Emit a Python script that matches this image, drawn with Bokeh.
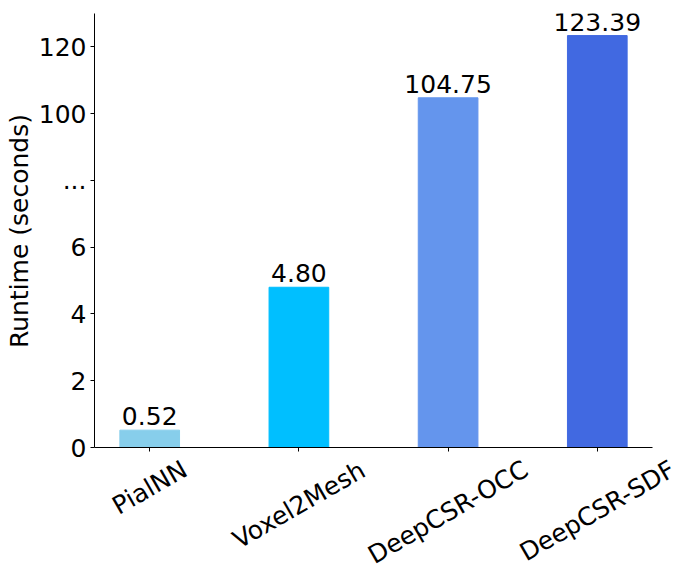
from bokeh.plotting import figure
from bokeh.models import ColumnDataSource, FixedTicker, Range1d, Label, Title
from bokeh.core.properties import value
from bokeh.embed import file_html
from bokeh.resources import INLINE
import math

methods = ["PialNN", "Voxel2Mesh", "DeepCSR-OCC", "DeepCSR-SDF"]
runtimes = [0.52, 4.80, 104.75, 123.39]
colors = ["skyblue", "deepskyblue", "cornflowerblue", "royalblue"]
ytick_pos = [0, 2, 4, 6, 8, 10, 12]
ytick_labels = ["0", "2", "4", "6", "...", "100", "120"]
y_title = "Runtime (seconds)"

# broken axis: values above the break are shown at one tenth
def broken(v):
    return v if v < 10 else v / 10.0

FONT = "DejaVu Sans"
FS = 25  # px

# approximate DejaVu Sans advance widths (em) to place rotated texts like matplotlib
W = {"P": .603, "i": .278, "a": .613, "l": .278, "N": .748, "V": .684, "o": .612,
     "x": .592, "e": .615, "2": .636, "M": .863, "s": .521, "h": .634, "D": .770,
     "p": .635, "C": .698, "S": .635, "R": .695, "-": .361, "O": .787, "F": .575,
     "u": .634, "n": .634, "t": .392, "m": .974, " ": .318, "(": .390, ")": .390,
     "c": .550, "d": .635}

def text_w(s):
    return sum(W.get(c, .6) for c in s) * FS

xs = list(range(len(methods)))
src = ColumnDataSource(dict(
    x=xs,
    top=[broken(v) for v in runtimes],
    color=colors,
    label=["%.2f" % v for v in runtimes],
))

# visible axes area
X0, X1 = -0.37, 3.37
VIS_W = 558
Y_TOP = 13
VIS_H = 434
# frame is larger than the axes so the rotated labels are not clipped
FRAME_W = 594
FRAME_H = 565
TOP_B = 13
ppx = VIS_W / (X1 - X0)
ppu = VIS_H / Y_TOP
x_end = X0 + FRAME_W / ppx
y_start = -(FRAME_H - VIS_H) / ppu

p = figure(frame_width=FRAME_W, frame_height=FRAME_H, output_backend="svg", toolbar_location=None,
           x_range=Range1d(X0, x_end), y_range=Range1d(y_start, Y_TOP),
           x_axis_location="above")
p.min_border_left = 94
p.min_border_top = TOP_B
p.min_border_right = 0
p.min_border_bottom = 0
p.outline_line_color = None
p.xgrid.visible = False
p.ygrid.visible = False

p.vbar(x="x", top="top", width=0.4, bottom=0, color="color", source=src)
p.text(x="x", y="top", text="label", source=src, text_align="center",
       text_baseline="bottom", text_font=value(FONT), text_font_size=f"{FS}px",
       text_color="black", y_offset=-5)

# x tick labels: rotated 30 deg, bounding box top-centred under each tick
ang = math.pi / 6
h = FS * 1.16
for x, m in zip(xs, methods):
    w = text_w(m)
    off = 7 + (w * math.sin(ang) + h * math.cos(ang)) / 2
    p.add_layout(Label(x=x, y=0, y_offset=-off, text=m, angle=ang,
                       text_align="center", text_baseline="middle",
                       text_font=FONT, text_font_size=f"{FS}px", text_color="black"))

xa = p.xaxis[0]
xa.fixed_location = 0
xa.bounds = (X0, X1)
xa.ticker = FixedTicker(ticks=xs)
xa.major_label_overrides = {i: "" for i in xs}
xa.major_label_text_font_size = "1px"
xa.major_label_standoff = 0
xa.major_tick_in = 4
xa.major_tick_out = 0

ya = p.yaxis[0]
ya.ticker = FixedTicker(ticks=ytick_pos)
ya.major_label_overrides = {t: l for t, l in zip(ytick_pos, ytick_labels)}
ya.bounds = (0, Y_TOP)
ya.major_tick_out = 4
ya.major_tick_in = 0

for ax in (xa, ya):
    ax.axis_line_color = "black"
    ax.major_tick_line_color = "black"
    ax.minor_tick_line_color = None
ya.major_label_text_font = FONT
ya.major_label_text_font_size = f"{FS}px"
ya.major_label_text_color = "black"
ya.major_label_standoff = 4

# y axis title centred on the visible axis (not on the enlarged frame)
shift = (FRAME_H - VIS_H / 2) - text_w(y_title) / 2
p.add_layout(Title(text=y_title, align="left", offset=shift, text_font=FONT,
                   text_font_size=f"{FS}px", text_font_style="normal",
                   text_color="black", standoff=4), "left")

open("out.html", "w").write(file_html(p, INLINE))
